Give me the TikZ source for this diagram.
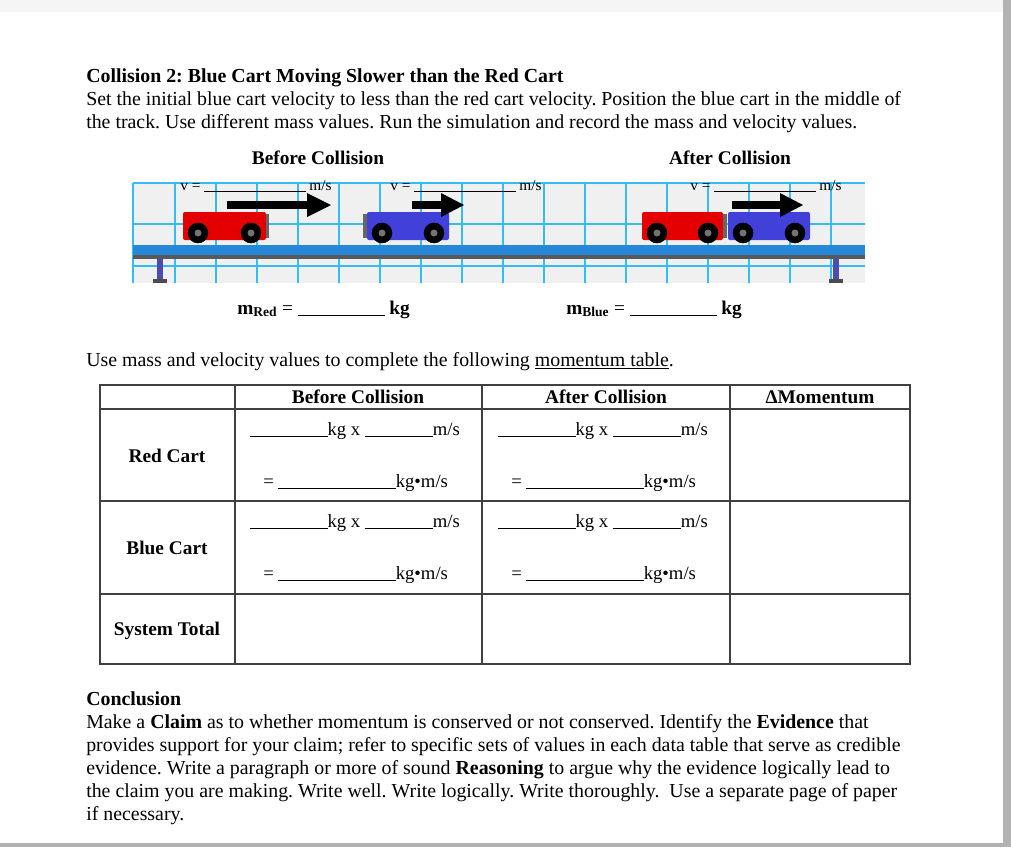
\documentclass[tikz,border=0pt]{standalone}
\usepackage{fontspec}
\setmainfont{Liberation Serif}
\begin{document}
\frenchspacing
\begin{tikzpicture}[x=0.75pt,y=-0.75pt,
  body/.style={anchor=base west,inner sep=0pt,font=\fontsize{14.9}{17}\selectfont},
  small/.style={anchor=base west,inner sep=0pt,font=\fontsize{11.5}{13}\selectfont},
  cell/.style={anchor=base west,inner sep=0pt,font=\fontsize{14}{16}\selectfont},
  bcell/.style={anchor=base,inner sep=0pt,font=\fontsize{14.5}{16}\selectfont\bfseries},
  grid/.style={draw=cyan!80!white,line width=0.9pt},
  wheel/.style={fill=black,draw=black},
  tbl/.style={draw=black!75,line width=0.8pt}]
\newcommand{\bl}[1]{\rule[-1.5pt]{#1}{0.5pt}}
\useasboundingbox (0,0) rectangle (1011,847);
\fill[white] (0,0) rectangle (1011,847);
\fill[black!4] (0,0) rectangle (1011,12);
\fill[black!30] (1003,0) rectangle (1011,847);
\fill[black!30] (0,843) rectangle (1011,847);
% heading
\node[body,font=\fontsize{14.9}{17}\selectfont\bfseries] (t1) at (86,82) {Collision 2: Blue Cart Moving Slower than the Red Cart};
\node[body] (t2) at (86,105) {Set the initial blue cart velocity to less than the red cart velocity. Position the blue cart in the middle of};
\node[body] (t3) at (86,128) {the track. Use different mass values. Run the simulation and record the mass and velocity values.};
\node[bcell] (bc) at (318,164) {Before Collision};
\node[bcell] (ac) at (730,164) {After Collision};
% simulation
\fill[black!6] (133,183) rectangle (865,283);
\foreach \k in {1,...,17}{\draw[grid] ({134+41*\k},183) -- ({134+41*\k},283);}
\foreach \yy in {183,224,266}{\draw[grid] (133,\yy) -- (865,\yy);}
\draw[grid] (133,183) -- (133,283);
% legs
\foreach \xx in {160,836}{\fill[blue!40!gray] (\xx-3,258) rectangle (\xx+3,281); \fill[black!70] (\xx-7,279) rectangle (\xx+7,283);}
\fill[blue!45!cyan!70!gray] (133,245) rectangle (865,256);
\fill[black!65] (133,255) rectangle (865,259);
% carts
\newcommand{\cart}[3]{\fill[#3,rounded corners=1.5pt] (#1,212) rectangle (#2,240);
  \fill[wheel] (#1+15,233) circle (10); \fill[black!55] (#1+15,233) circle (3.5);
  \fill[wheel] (#2-15,233) circle (10); \fill[black!55] (#2-15,233) circle (3.5);}
\cart{183}{266}{red!90!black}
\fill[black!60] (266,214) rectangle (269,238);
\cart{367}{449}{blue!70!white!85!black}
\fill[black!60] (363,214) rectangle (367,238);
\cart{642}{723}{red!90!black}
\fill[black!60] (723,214) rectangle (727,238);
\cart{728}{810}{blue!70!white!85!black}
% arrows
\fill (227,201) rectangle (307,209); \fill (307,193) -- (331,205) -- (307,217) -- cycle;
\fill (412,201) rectangle (441,209); \fill (441,193) -- (464,205) -- (441,217) -- cycle;
\fill (732,201) rectangle (780,209); \fill (780,193) -- (803,205) -- (780,217) -- cycle;
\node[small] (v1) at (180,190) {v = \bl{76pt} m/s};
\node[small] (v2) at (390,190) {v = \bl{76pt} m/s};
\node[small] (v3) at (690,190) {v = \bl{76pt} m/s};
% masses
\node[body,font=\fontsize{14.5}{16}\selectfont] (mr) at (237,314) {\textbf{m\textsubscript{Red}} = \bl{65pt} \textbf{kg}};
\node[body,font=\fontsize{14.5}{16}\selectfont] (mb) at (566,314) {\textbf{m\textsubscript{Blue}} = \bl{65pt} \textbf{kg}};
\node[body] (use) at (86,366) {Use mass and velocity values to complete the following \underline{momentum table}.};
% table
\draw[tbl] (100,385) rectangle (910,664);
\foreach \yy in {409,501,594}{\draw[tbl] (100,\yy) -- (910,\yy);}
\foreach \xx in {235,482,730}{\draw[tbl] (\xx,385) -- (\xx,664);}
\node[bcell] (h1) at (358,403) {Before Collision};
\node[bcell] (h2) at (606,403) {After Collision};
\node[bcell] (h3) at (820,403) {ΔMomentum};
\node[bcell] (r1) at (167,462) {Red Cart};
\node[bcell] (r2) at (167,554) {Blue Cart};
\node[bcell] (r3) at (167,635) {System Total};
\foreach \xx in {250,498}{
 \foreach \yy in {435,527}{\node[cell] at (\xx,\yy) {\bl{58pt}kg x \bl{51pt}m/s};}
 \foreach \yy in {487,579}{\node[cell] at (\xx+13,\yy) {= \bl{88pt}kg\textbullet m/s};}
}
% conclusion
\node[body,font=\fontsize{14.9}{17}\selectfont\bfseries] (c0) at (86,705) {Conclusion};
\node[body] (c1) at (86,728) {Make a \textbf{Claim} as to whether momentum is conserved or not conserved. Identify the \textbf{Evidence} that};
\node[body] (c2) at (86,751) {provides support for your claim; refer to specific sets of values in each data table that serve as credible};
\node[body] (c3) at (86,774) {evidence. Write a paragraph or more of sound \textbf{Reasoning} to argue why the evidence logically lead to};
\node[body] (c4) at (86,797) {the claim you are making. Write well. Write logically. Write thoroughly.\ \ Use a separate page of paper};
\node[body] (c5) at (86,820) {if necessary.};
\end{tikzpicture}
\end{document}
